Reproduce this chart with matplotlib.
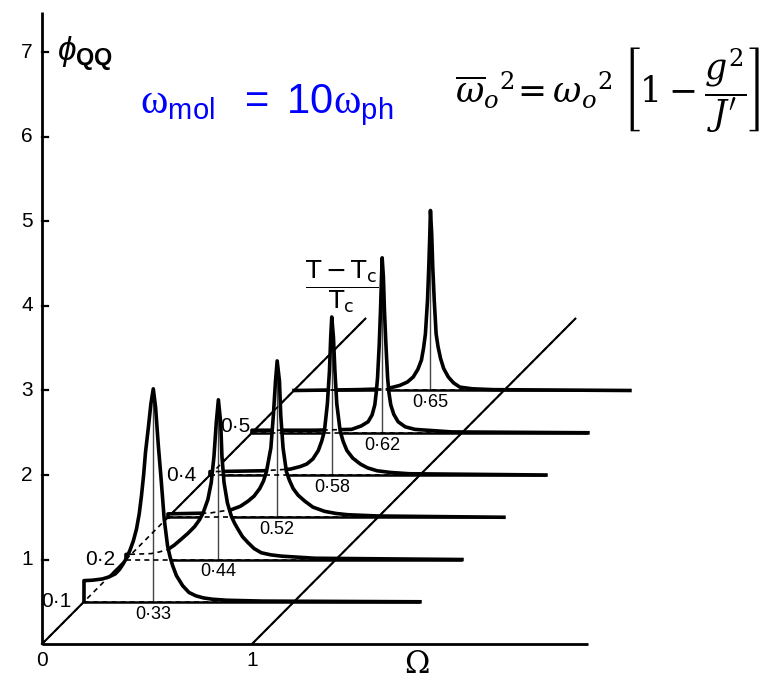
import numpy as np
import matplotlib
matplotlib.use("Agg")
import matplotlib.pyplot as plt

plt.rcParams.update({
    "font.family": ["Liberation Sans", "DejaVu Sans"],
    "mathtext.rm": "Liberation Sans",
    "mathtext.sf": "Liberation Serif",
    "mathtext.it": "Liberation Sans:italic",
    "mathtext.bf": "Liberation Sans:bold",
})

# Reduced temperature (T - Tc)/Tc of each spectrum (depth axis)
reduced_temp = [0.1, 0.2, 0.3, 0.4, 0.5, 0.6]
# Peak frequency of each spectrum, in units of Omega
peak_freq = [0.33, 0.44, 0.52, 0.58, 0.62, 0.65]
peak_labels = ["0·33", "0·44", "0.52", "0·58", "0·62", "0·65"]

# Spectral function phi_QQ(Omega) above each baseline
omega_1 = [0.0, 0.04, 0.088, 0.12, 0.149, 0.17, 0.187, 0.203, 0.219, 0.235, 0.250,
           0.263, 0.274, 0.284, 0.293, 0.306, 0.319, 0.330,
           0.341, 0.354, 0.367, 0.382, 0.398, 0.41, 0.422, 0.44, 0.470, 0.50,
           0.533, 0.57, 0.612, 0.68, 0.85, 1.6]
phi_1 = [0.25, 0.255, 0.27, 0.295, 0.33, 0.385, 0.45, 0.52, 0.61, 0.72, 0.86,
         1.04, 1.26, 1.50, 1.77, 2.05, 2.35, 2.52,
         2.30, 1.85, 1.46, 0.98, 0.66, 0.53, 0.43, 0.31, 0.19, 0.11,
         0.07, 0.045, 0.03, 0.018, 0.008, 0.0]

omega_2 = [0.0, 0.12, 0.16, 0.20, 0.23, 0.263, 0.295, 0.327, 0.35, 0.367, 0.39,
           0.406, 0.419, 0.43, 0.44, 0.451, 0.457, 0.467, 0.483, 0.502, 0.517,
           0.533, 0.555, 0.581, 0.61, 0.644, 0.69, 0.74, 0.9, 1.6]
phi_2 = [0.06, 0.07, 0.09, 0.12, 0.17, 0.24, 0.31, 0.39, 0.47, 0.55, 0.71,
         0.91, 1.22, 1.62, 1.89, 1.62, 1.22, 0.91, 0.67, 0.51, 0.43,
         0.36, 0.27, 0.20, 0.13, 0.08, 0.055, 0.04, 0.015, 0.0]

omega_3 = [0.0, 0.20, 0.302, 0.345, 0.381, 0.41, 0.437, 0.455, 0.469, 0.490,
           0.502, 0.512, 0.52, 0.531, 0.537, 0.548, 0.564, 0.578, 0.596, 0.62,
           0.652, 0.69, 0.746, 0.80, 0.856, 1.0, 1.6]
phi_3 = [0.04, 0.05, 0.09, 0.13, 0.19, 0.25, 0.34, 0.43, 0.54, 0.82,
         1.21, 1.61, 1.85, 1.61, 1.21, 0.82, 0.54, 0.44, 0.34, 0.26,
         0.19, 0.12, 0.07, 0.045, 0.03, 0.015, 0.0]

omega_4 = [0.0, 0.25, 0.383, 0.43, 0.461, 0.49, 0.516, 0.532, 0.545, 0.559,
           0.569, 0.575, 0.58, 0.588, 0.595, 0.604, 0.62, 0.634, 0.652, 0.68,
           0.716, 0.75, 0.796, 0.86, 0.95, 1.6]
phi_4 = [0.04, 0.05, 0.07, 0.10, 0.13, 0.19, 0.29, 0.40, 0.52, 0.84,
         1.23, 1.63, 1.87, 1.63, 1.23, 0.84, 0.52, 0.40, 0.29, 0.20,
         0.13, 0.085, 0.05, 0.03, 0.015, 0.0]

omega_5 = [0.0, 0.30, 0.474, 0.52, 0.553, 0.572, 0.585, 0.592, 0.598, 0.606,
           0.612, 0.617, 0.62, 0.626, 0.631, 0.638, 0.646, 0.652, 0.661, 0.675,
           0.696, 0.73, 0.776, 0.95, 1.6]
phi_5 = [0.03, 0.03, 0.04, 0.08, 0.13, 0.21, 0.33, 0.48, 0.65, 1.04,
         1.44, 1.84, 2.07, 1.84, 1.44, 1.04, 0.65, 0.48, 0.33, 0.22,
         0.13, 0.07, 0.04, 0.01, 0.0]

omega_6 = [0.0, 0.30, 0.441, 0.504, 0.54, 0.568, 0.59, 0.607, 0.617, 0.626,
           0.636, 0.642, 0.647, 0.65, 0.656, 0.661, 0.668, 0.677, 0.686, 0.698,
           0.713, 0.735, 0.76, 0.79, 0.85, 0.95, 1.6]
phi_6 = [0.0, 0.01, 0.02, 0.06, 0.10, 0.16, 0.25, 0.36, 0.50, 0.67,
         1.07, 1.46, 1.85, 2.13, 1.85, 1.46, 1.07, 0.67, 0.52, 0.38,
         0.26, 0.16, 0.09, 0.04, 0.02, 0.01, 0.0]

omegas = [omega_1, omega_2, omega_3, omega_4, omega_5, omega_6]
phis = [phi_1, phi_2, phi_3, phi_4, phi_5, phi_6]

# Labels on the depth axis
depth_label_vals = [0.1, 0.2, 0.4, 0.5]
depth_labels = ["0·1", "0·2", "0·4", "0·5"]
depth_label_offsets = [(-9, 0), (-8, 0), (-10, 0), (-1, 4.5)]  # points

y_ticks = [1, 2, 3, 4, 5, 6, 7]
x_ticks = [0, 1]
omega_end = 1.6      # extent of each baseline
depth_end = 0.77     # extent of the depth axis lines
x_axis_end = 2.6
y_axis_top = 7.48

# Oblique projection: one unit of depth moves (2, 5) on the page
DX, DY = 2.0, 5.0


def proj(omega, phi, depth):
    return np.asarray(omega, float) + DX * depth, np.asarray(phi, float) + DY * depth


fig = plt.figure(figsize=(7.83, 6.85), dpi=100)
ax = fig.add_axes([0, 0, 1, 1])
ax.set_xlim(-0.2, 3.529)
ax.set_ylim(-0.485, 7.621)
ax.axis("off")

K = "black"
LW_AX = 2.0
LW_CURVE = 2.6
LW_BASE = 1.8
LW_OBL = 1.5

# Frame: vertical phi axis and horizontal Omega axis
ax.plot([0, 0], [0, y_axis_top], color=K, lw=LW_AX, solid_capstyle="butt", zorder=2)
ax.plot([0, x_axis_end], [0, 0], color=K, lw=LW_AX, solid_capstyle="butt", zorder=2)
for t in y_ticks:
    ax.plot([0, 0.028], [t, t], color=K, lw=1.6, zorder=2)
    ax.text(-0.072, t, str(t), ha="center", va="center", fontsize=15, color=K)
for t in x_ticks:
    ax.text(t, -0.2, str(t), ha="center", va="center", fontsize=15, color=K)
ax.text(1.786, -0.237, "Ω", ha="center", va="center", fontsize=22,
        family="DejaVu Serif", color=K)

# Depth axis lines at Omega = 0 and Omega = 1
oblique = []
for x0 in x_ticks:
    ox, oy = proj([x0, x0], [0, 0], np.array([0.0, depth_end]))
    oblique.append((ox, oy))
    ax.plot(ox, oy, color=K, lw=LW_OBL, zorder=2)

# Spectra, painted from back to front so nearer ones hide farther ones
n = len(reduced_temp)
for i in reversed(range(n)):
    d = reduced_temp[i]
    z = 10 + 10 * (n - 1 - i)
    om = [0.0] + omegas[i] + [omega_end]
    ph = [0.0] + phis[i] + [0.0]
    px, py = proj(om, ph, d)
    ax.fill(px, py, color="white", lw=0, zorder=z)
    bx, by = proj([0, omega_end], [0, 0], d)
    ax.plot(bx, by, color=K, lw=LW_BASE, zorder=z + 2, solid_capstyle="butt")
    # peak marker
    pk = peak_freq[i]
    top = max(phis[i])
    mx, my = proj([pk, pk], [0, top * 0.97], d)
    ax.plot(mx, my, color="#444444", lw=1.0, zorder=z + 1)
    ax.plot(px[:-1], py[:-1], color=K, lw=LW_CURVE, zorder=z + 3,
            solid_joinstyle="round")
    lx, ly = proj(pk, 0, d)
    ax.text(lx, ly - 0.145, peak_labels[i], ha="center", va="center",
            fontsize=13, color=K, zorder=z + 4)

# Hidden lines shown dashed
dash = dict(color=K, lw=1.2, ls=(0, (3, 2.5)), zorder=200)
for ox, oy in oblique:
    ax.plot(ox, oy, **dash)
for i in range(n):
    d = reduced_temp[i]
    bx, by = proj([0, omega_end], [0, 0], d)
    ax.plot(bx, by, **dash)
    px, py = proj([0.0] + omegas[i], [0.0] + phis[i], d)
    ax.plot(px, py, **dash)

# Depth axis labels
for v, lab, off in zip(depth_label_vals, depth_labels, depth_label_offsets):
    x, y = proj(0, 0, v)
    ax.annotate(lab, (x, y), xytext=off, textcoords="offset points",
                ha="right", va="center", fontsize=15, color=K, zorder=210)

# Depth axis title (T - Tc)/Tc
ax.text(1.43, 4.23, r"$\dfrac{\mathrm{T}-\mathrm{T}_{\mathrm{c}}}{\mathrm{T}_{\mathrm{c}}}$",
        ha="center", va="center", fontsize=18, color=K, math_fontfamily="dejavusans")

# phi_QQ axis title
ax.text(0.07, 6.99, r"$\phi_{\mathbf{QQ}}$", ha="left", va="center", fontsize=24,
        color=K, math_fontfamily="custom")

# Annotations
ax.text(0.467, 6.284,
        r"$\mathsf{\omega}_{\mathrm{mol}}\ \;=\ \mathrm{10}\mathsf{\omega}_{\mathrm{ph}}$",
        ha="left", va="baseline", fontsize=30, color="#0000ff", math_fontfamily="custom")
ax.text(1.967, 6.556,
        r"$\overline{\omega}_o{}^{2}\!=\omega_o{}^{2}\;\left[1-\dfrac{g^2}{J^{\prime}}\right]$",
        ha="left", va="center", fontsize=25, color=K, math_fontfamily="dejavuserif")

fig.savefig("out.png", dpi=100, facecolor="white")
